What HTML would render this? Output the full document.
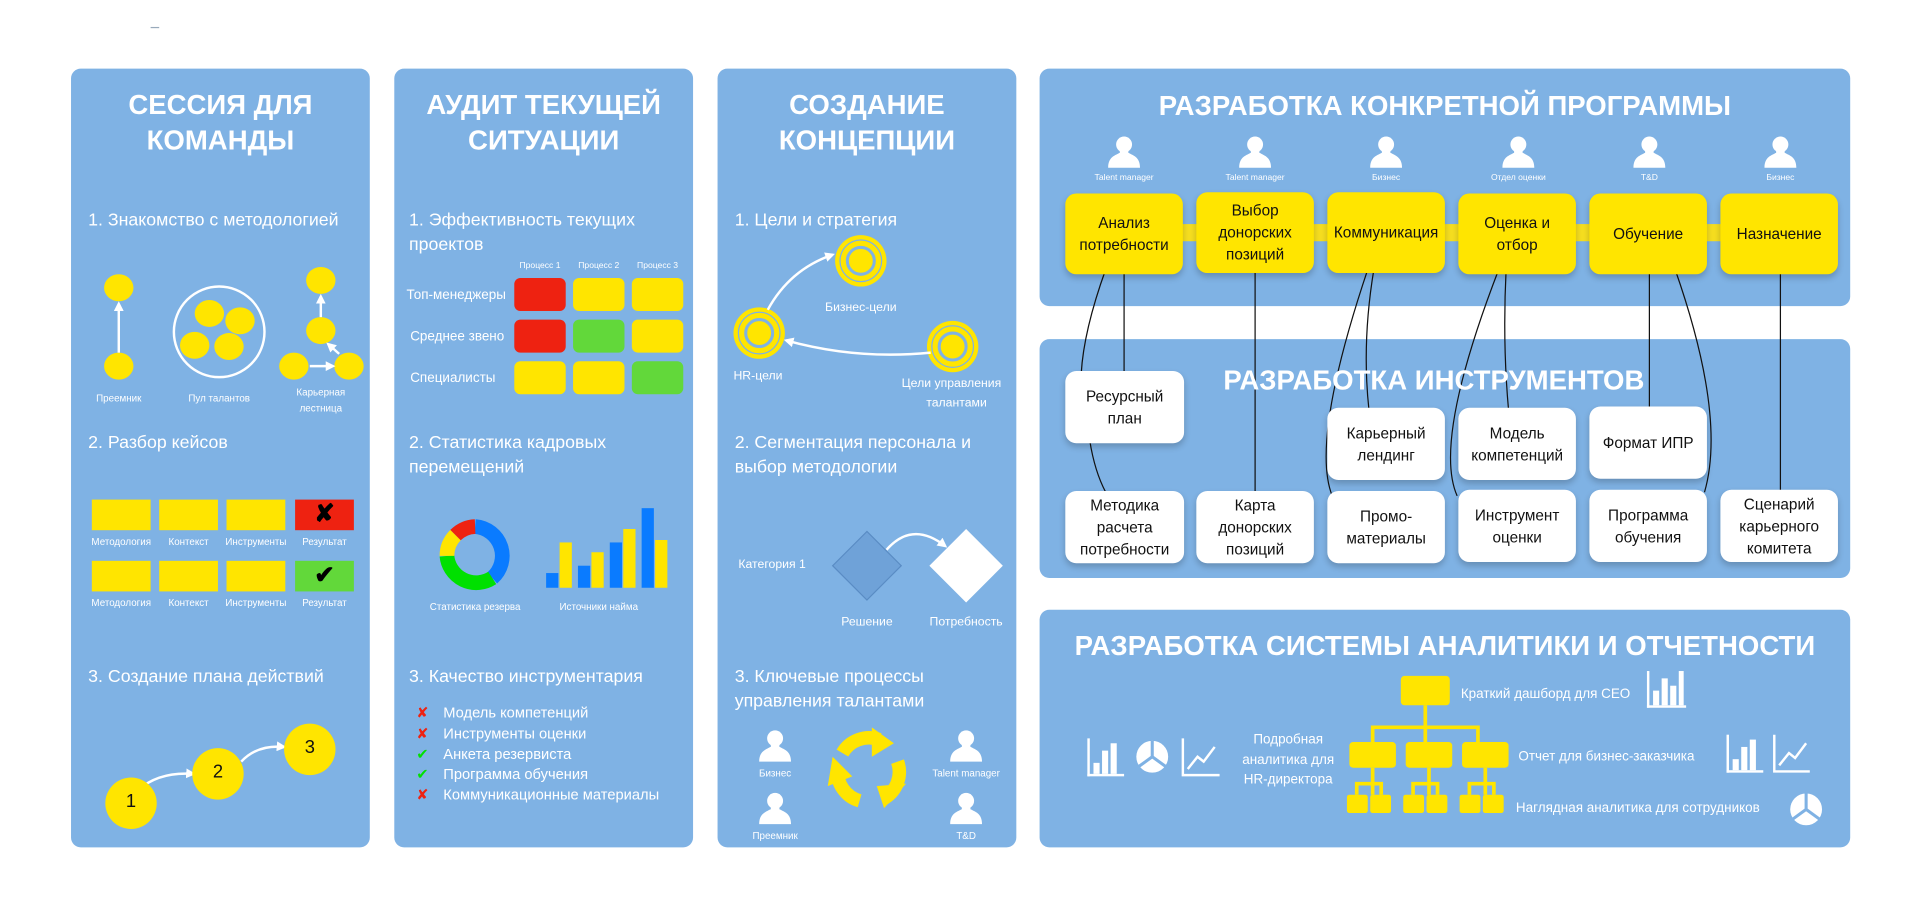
<!DOCTYPE html>
<html><head><meta charset="utf-8"><style>
html,body{margin:0;padding:0;background:#fff;width:1920px;height:920px;overflow:hidden}
#w{position:absolute;left:0;top:0;width:1568px;height:751px;transform:scale(1.22449);transform-origin:0 0;font-family:"Liberation Sans",sans-serif;color:#fff}
.p{position:absolute;background:#7fb2e4;border-radius:8px}
.t{position:absolute;white-space:nowrap}
.c{transform:translateX(-50%);text-align:center}
.ti{font-weight:bold;font-size:22.5px;line-height:29px;text-align:center;position:absolute;white-space:nowrap}
.h{font-size:14.5px;line-height:20px}
.s{font-size:8px}
.yb{position:absolute;background:#ffe500;border-radius:9px;color:#111;font-size:12.5px;line-height:18px;display:flex;align-items:center;justify-content:center;text-align:center;box-shadow:0 3px 5px rgba(0,0,0,.2)}
.wb{position:absolute;background:#fff;border-radius:9px;color:#111;font-size:12.5px;line-height:18px;display:flex;align-items:center;justify-content:center;text-align:center;box-shadow:0 3px 5px rgba(0,0,0,.2)}
svg{position:absolute;left:0;top:0}
</style></head><body><div id="w">
<div style="position:absolute;left:123px;top:22px;width:7px;height:1px;background:#9ab"></div>
<div class="p" style="left:58px;top:56px;width:244px;height:636px"></div>
<div class="p" style="left:322px;top:56px;width:244px;height:636px"></div>
<div class="p" style="left:586px;top:56px;width:244px;height:636px"></div>
<div class="p" style="left:849px;top:56px;width:662px;height:194px"></div>
<div class="p" style="left:849px;top:277px;width:662px;height:195px"></div>
<div class="p" style="left:849px;top:498px;width:662px;height:194px"></div>

<svg width="1568" height="751" viewBox="0 0 1568 751">
<defs>
<g id="pr"><circle cx="0" cy="-7" r="6.5" fill="#fff"/><path d="M-13 12 C-13 3 -7 2 -4 0 L4 0 C7 2 13 3 13 12 Z" fill="#fff"/><rect x="-3.5" y="-2" width="7" height="4" fill="#fff"/></g>
<marker id="ar" markerWidth="8" markerHeight="8" refX="6" refY="4" orient="auto" markerUnits="userSpaceOnUse"><path d="M0 0 L8 4 L0 8 Z" fill="#fff"/></marker>
<g id="tg"><circle r="21" fill="#ffe500"/><circle r="17" fill="none" stroke="#7fb2e4" stroke-width="1"/><circle r="11" fill="none" stroke="#7fb2e4" stroke-width="2.5"/><circle r="4" fill="#ffe500"/></g>
</defs>
<g fill="#ffe500">
<ellipse cx="97" cy="235" rx="12" ry="11"/><ellipse cx="97" cy="299" rx="12" ry="11"/>
<ellipse cx="171" cy="256" rx="12" ry="11"/><ellipse cx="196" cy="262" rx="12" ry="11"/><ellipse cx="159" cy="282" rx="12" ry="11"/><ellipse cx="187" cy="283" rx="12" ry="11"/>
<ellipse cx="262" cy="229" rx="12" ry="11"/><ellipse cx="262" cy="270" rx="12" ry="11"/><ellipse cx="240" cy="299" rx="12" ry="11"/><ellipse cx="285" cy="299" rx="12" ry="11"/>
</g>
<circle cx="179" cy="271" r="37" fill="none" stroke="#fff" stroke-width="2"/>
<g stroke="#fff" stroke-width="2" fill="none" marker-end="url(#ar)">
<line x1="97" y1="288" x2="97" y2="248"/><line x1="262" y1="259" x2="262" y2="242"/>
<line x1="253" y1="299" x2="272" y2="299"/><line x1="277" y1="289" x2="268" y2="281"/>
<path d="M113 645 Q130 630 158 632"/><path d="M197 622 Q210 608 232 610"/>
</g>
<g fill="#ffe500">
<rect x="75" y="408" width="48" height="25"/><rect x="130" y="408" width="48" height="25"/><rect x="185" y="408" width="48" height="25"/>
<rect x="75" y="458" width="48" height="25"/><rect x="130" y="458" width="48" height="25"/><rect x="185" y="458" width="48" height="25"/>
</g>
<rect x="241" y="408" width="48" height="25" fill="#ee2211"/><rect x="241" y="458" width="48" height="25" fill="#62d83a"/>
<circle cx="107" cy="656" r="21" fill="#ffe500"/><circle cx="178" cy="632" r="21" fill="#ffe500"/><circle cx="253" cy="612" r="21" fill="#ffe500"/>
<g>
<rect x="420" y="227" width="42" height="27" rx="5" fill="#ee2211"/><rect x="468" y="227" width="42" height="27" rx="5" fill="#ffe500"/><rect x="516" y="227" width="42" height="27" rx="5" fill="#ffe500"/>
<rect x="420" y="261" width="42" height="27" rx="5" fill="#ee2211"/><rect x="468" y="261" width="42" height="27" rx="5" fill="#62d83a"/><rect x="516" y="261" width="42" height="27" rx="5" fill="#ffe500"/>
<rect x="420" y="295" width="42" height="27" rx="5" fill="#ffe500"/><rect x="468" y="295" width="42" height="27" rx="5" fill="#ffe500"/><rect x="516" y="295" width="42" height="27" rx="5" fill="#62d83a"/>
</g>
<g fill="none" stroke-width="12">
<path d="M388 430 A24 24 0 0 1 402 472" stroke="#0a7bff"/>
<path d="M402 472 A24 24 0 0 1 365 454" stroke="#00e000"/>
<path d="M365 454 A24 24 0 0 1 372 437" stroke="#ffe500"/>
<path d="M372 437 A24 24 0 0 1 388 430" stroke="#ee2211"/>
</g>
<g>
<rect x="446" y="468" width="10" height="12" fill="#0a7bff"/><rect x="457" y="443" width="10" height="37" fill="#ffe500"/>
<rect x="472" y="462" width="10" height="18" fill="#0a7bff"/><rect x="483" y="451" width="10" height="29" fill="#ffe500"/>
<rect x="498" y="443" width="10" height="37" fill="#0a7bff"/><rect x="509" y="432" width="10" height="48" fill="#ffe500"/>
<rect x="524" y="415" width="10" height="65" fill="#0a7bff"/><rect x="535" y="441" width="10" height="39" fill="#ffe500"/>
</g>
<use href="#tg" x="703" y="213"/><use href="#tg" x="620" y="272"/><use href="#tg" x="778" y="283"/>
<g stroke="#fff" stroke-width="2" fill="none" marker-end="url(#ar)">
<path d="M627 253 Q645 220 680 208"/><path d="M760 288 Q700 294 642 278"/><path d="M724 449 Q745 425 772 446"/>
</g>
<path d="M708 434 L736 462 L708 490 L680 462 Z" fill="#6fa2d8" stroke="#5a8cc4" stroke-width="1"/>
<path d="M789 432 L819 462 L789 492 L759 462 Z" fill="#fff"/>
<use href="#pr" x="633" y="610"/><use href="#pr" x="633" y="661"/><use href="#pr" x="789" y="610"/><use href="#pr" x="789" y="661"/>
<g fill="none" stroke="#ffe500" stroke-width="11">
<path d="M688 615 A25 25 0 0 1 718 604"/><path d="M733 622 A25 25 0 0 1 722 652"/><path d="M702 654 A25 25 0 0 1 684 628"/>
</g>
<g fill="#ffe500"><path d="M712 594 L730 607 L712 618 Z"/><path d="M740 640 L722 660 L716 642 Z"/><path d="M676 642 L680 618 L696 634 Z"/></g>
<use href="#pr" x="918" y="125"/><use href="#pr" x="1025" y="125"/><use href="#pr" x="1132" y="125"/><use href="#pr" x="1240" y="125"/><use href="#pr" x="1347" y="125"/><use href="#pr" x="1454" y="125"/>
<rect x="960" y="183" width="500" height="14" fill="#f5de20"/>
<g stroke="#111" stroke-width="1" fill="none">
<path d="M903 220 Q885 270 883 305"/><path d="M918 220 L918 305"/><path d="M890 360 Q894 385 903 402"/>
<path d="M1025 220 L1025 402"/>
<path d="M1117 220 Q1070 360 1088 405"/><path d="M1122 220 Q1112 280 1118 335"/>
<path d="M1224 220 Q1170 360 1190 405"/><path d="M1230 220 Q1227 280 1232 335"/>
<path d="M1347 220 L1347 335"/><path d="M1368 220 Q1410 340 1392 402"/>
<path d="M1454 220 L1454 402"/>
</g>
<g fill="#ffe500">
<rect x="1144" y="552" width="40" height="24" rx="3"/>
<rect x="1102" y="606" width="38" height="21" rx="3"/><rect x="1148" y="606" width="38" height="21" rx="3"/><rect x="1194" y="606" width="38" height="21" rx="3"/>
<rect x="1100" y="649" width="17" height="15" rx="2"/><rect x="1119" y="649" width="17" height="15" rx="2"/>
<rect x="1146" y="649" width="17" height="15" rx="2"/><rect x="1165" y="649" width="17" height="15" rx="2"/>
<rect x="1192" y="649" width="17" height="15" rx="2"/><rect x="1211" y="649" width="17" height="15" rx="2"/>
</g>
<g stroke="#ffe500" stroke-width="3" fill="none">
<path d="M1164 576 V606 M1121 606 V594 H1207 V606"/>
<path d="M1121 627 V649 M1108 649 V640 H1128 V649"/>
<path d="M1167 627 V649 M1154 649 V640 H1174 V649"/>
<path d="M1213 627 V649 M1200 649 V640 H1220 V649"/>
</g>
<g fill="#fff">
<g transform="translate(1345,548)"><rect x="0" y="0" width="2" height="30"/><rect x="0" y="28" width="32" height="2"/><rect x="5" y="16" width="5" height="12"/><rect x="12" y="6" width="5" height="22"/><rect x="19" y="12" width="5" height="16"/><rect x="26" y="0" width="4" height="28"/></g>
<g transform="translate(888,603)"><rect x="0" y="0" width="2" height="31"/><rect x="0" y="29" width="30" height="2"/><rect x="5" y="20" width="5" height="9"/><rect x="12" y="10" width="5" height="19"/><rect x="19" y="4" width="5" height="25"/></g>
<g transform="translate(1410,600)"><rect x="0" y="0" width="2" height="31"/><rect x="0" y="29" width="30" height="2"/><rect x="5" y="20" width="5" height="9"/><rect x="12" y="10" width="5" height="19"/><rect x="19" y="4" width="5" height="25"/></g>
<circle cx="941" cy="618" r="13"/><circle cx="1475" cy="661" r="13"/>
</g>
<g stroke="#7fb2e4" stroke-width="2.5"><path d="M941 618 V605 M941 618 L930 626 M941 618 L952 626"/><path d="M1475 661 V648 M1475 661 L1464 669 M1475 661 L1486 669"/></g>
<g stroke="#fff" stroke-width="2" fill="none">
<path d="M966 603 V633 H996 M970 628 L978 618 L983 622 L992 610"/>
<path d="M1449 600 V630 H1478 M1453 625 L1461 615 L1466 619 L1475 607"/>
</g>
</svg>

<div class="ti" style="left:58px;width:244px;top:71px">СЕССИЯ ДЛЯ<br>КОМАНДЫ</div>
<div class="t h" style="left:72px;top:170px">1. Знакомство с методологией</div>
<div class="t s c" style="left:97px;top:321px">Преемник</div>
<div class="t s c" style="left:179px;top:321px">Пул талантов</div>
<div class="t s c" style="left:262px;top:314px;line-height:13px">Карьерная<br>лестница</div>
<div class="t h" style="left:72px;top:352px">2. Разбор кейсов</div>
<div class="t s c" style="left:99px;top:438px">Методология</div><div class="t s c" style="left:154px;top:438px">Контекст</div><div class="t s c" style="left:209px;top:438px">Инструменты</div><div class="t s c" style="left:265px;top:438px">Результат</div>
<div class="t s c" style="left:99px;top:488px">Методология</div><div class="t s c" style="left:154px;top:488px">Контекст</div><div class="t s c" style="left:209px;top:488px">Инструменты</div><div class="t s c" style="left:265px;top:488px">Результат</div>
<div class="t c" style="left:265px;top:407px;color:#000;font-size:20px;font-weight:bold">✘</div>
<div class="t c" style="left:265px;top:457px;color:#000;font-size:20px;font-weight:bold">✔</div>
<div class="t h" style="left:72px;top:543px">3. Создание плана действий</div>
<div class="t c" style="left:107px;top:646px;color:#111;font-size:15px">1</div>
<div class="t c" style="left:178px;top:622px;color:#111;font-size:15px">2</div>
<div class="t c" style="left:253px;top:602px;color:#111;font-size:15px">3</div>
<div class="ti" style="left:322px;width:244px;top:71px">АУДИТ ТЕКУЩЕЙ<br>СИТУАЦИИ</div>
<div class="t h" style="left:334px;top:170px">1. Эффективность текущих<br>проектов</div>
<div class="t s c" style="left:441px;top:214px;font-size:7px">Процесс 1</div><div class="t s c" style="left:489px;top:214px;font-size:7px">Процесс 2</div><div class="t s c" style="left:537px;top:214px;font-size:7px">Процесс 3</div>
<div class="t" style="left:332px;top:235px;font-size:11px">Топ-менеджеры</div>
<div class="t" style="left:335px;top:269px;font-size:11px">Среднее звено</div>
<div class="t" style="left:335px;top:303px;font-size:11px">Специалисты</div>
<div class="t h" style="left:334px;top:352px">2. Статистика кадровых<br>перемещений</div>
<div class="t s c" style="left:388px;top:491px">Статистика резерва</div>
<div class="t s c" style="left:489px;top:491px">Источники найма</div>
<div class="t h" style="left:334px;top:543px">3. Качество инструментария</div>
<div class="t" style="left:340px;top:574px;font-size:12px;line-height:16.8px"><span style="color:#ee2211">✘</span><br><span style="color:#ee2211">✘</span><br><span style="color:#00e000">✔</span><br><span style="color:#00e000">✔</span><br><span style="color:#ee2211">✘</span></div>
<div class="t" style="left:362px;top:574px;font-size:12px;line-height:16.8px">Модель компетенций<br>Инструменты оценки<br>Анкета резервиста<br>Программа обучения<br>Коммуникационные материалы</div>
<div class="ti" style="left:586px;width:244px;top:71px">СОЗДАНИЕ<br>КОНЦЕПЦИИ</div>
<div class="t h" style="left:600px;top:170px">1. Цели и стратегия</div>
<div class="t c" style="left:703px;top:246px;font-size:10px">Бизнес-цели</div>
<div class="t" style="left:599px;top:302px;font-size:10px">HR-цели</div>
<div class="t c" style="left:777px;top:306px;font-size:10px;line-height:16px">Цели управления<br>&nbsp;&nbsp;&nbsp;талантами</div>
<div class="t h" style="left:600px;top:352px">2. Сегментация персонала и<br>выбор методологии</div>
<div class="t" style="left:603px;top:456px;font-size:10px">Категория 1</div>
<div class="t c" style="left:708px;top:503px;font-size:10px">Решение</div>
<div class="t c" style="left:789px;top:503px;font-size:10px">Потребность</div>
<div class="t h" style="left:600px;top:543px">3. Ключевые процессы<br>управления талантами</div>
<div class="t s c" style="left:633px;top:627px">Бизнес</div>
<div class="t s c" style="left:633px;top:678px">Преемник</div>
<div class="t s c" style="left:789px;top:627px">Talent manager</div>
<div class="t s c" style="left:789px;top:678px">T&amp;D</div>
<div class="ti" style="left:849px;width:662px;top:72px">РАЗРАБОТКА КОНКРЕТНОЙ ПРОГРАММЫ</div>
<div class="t s c" style="left:918px;top:142px;font-size:7px">Talent manager</div>
<div class="t s c" style="left:1025px;top:142px;font-size:7px">Talent manager</div>
<div class="t s c" style="left:1132px;top:142px;font-size:7px">Бизнес</div>
<div class="t s c" style="left:1240px;top:142px;font-size:7px">Отдел оценки</div>
<div class="t s c" style="left:1347px;top:142px;font-size:7px">T&amp;D</div>
<div class="t s c" style="left:1454px;top:142px;font-size:7px">Бизнес</div>
<div class="yb" style="left:870px;top:158px;width:96px;height:66px">Анализ<br>потребности</div>
<div class="yb" style="left:977px;top:157px;width:96px;height:66px">Выбор<br>донорских<br>позиций</div>
<div class="yb" style="left:1084px;top:157px;width:96px;height:66px">Коммуникация</div>
<div class="yb" style="left:1191px;top:158px;width:96px;height:66px">Оценка и<br>отбор</div>
<div class="yb" style="left:1298px;top:158px;width:96px;height:66px">Обучение</div>
<div class="yb" style="left:1405px;top:158px;width:96px;height:66px">Назначение</div>
<div class="ti" style="left:840px;width:662px;top:296px">РАЗРАБОТКА ИНСТРУМЕНТОВ</div>
<div class="wb" style="left:870px;top:303px;width:97px;height:59px">Ресурсный<br>план</div>
<div class="wb" style="left:1084px;top:333px;width:96px;height:59px">Карьерный<br>лендинг</div>
<div class="wb" style="left:1191px;top:333px;width:96px;height:59px">Модель<br>компетенций</div>
<div class="wb" style="left:1298px;top:332px;width:96px;height:59px">Формат ИПР</div>
<div class="wb" style="left:870px;top:401px;width:97px;height:59px">Методика<br>расчета<br>потребности</div>
<div class="wb" style="left:977px;top:401px;width:96px;height:59px">Карта<br>донорских<br>позиций</div>
<div class="wb" style="left:1084px;top:401px;width:96px;height:59px">Промо-<br>материалы</div>
<div class="wb" style="left:1191px;top:400px;width:96px;height:59px">Инструмент<br>оценки</div>
<div class="wb" style="left:1298px;top:400px;width:96px;height:59px">Программа<br>обучения</div>
<div class="wb" style="left:1405px;top:400px;width:96px;height:59px">Сценарий<br>карьерного<br>комитета</div>
<div class="ti" style="left:849px;width:662px;top:513px">РАЗРАБОТКА СИСТЕМЫ АНАЛИТИКИ И ОТЧЕТНОСТИ</div>
<div class="t" style="left:1193px;top:561px;font-size:11px">Краткий дашборд для CEO</div>
<div class="t c" style="left:1052px;top:596px;font-size:11px;line-height:16.5px">Подробная<br>аналитика для<br>HR-директора</div>
<div class="t" style="left:1240px;top:612px;font-size:11px">Отчет для бизнес-заказчика</div>
<div class="t" style="left:1238px;top:654px;font-size:11px">Наглядная аналитика для сотрудников</div>
</div></body></html>
